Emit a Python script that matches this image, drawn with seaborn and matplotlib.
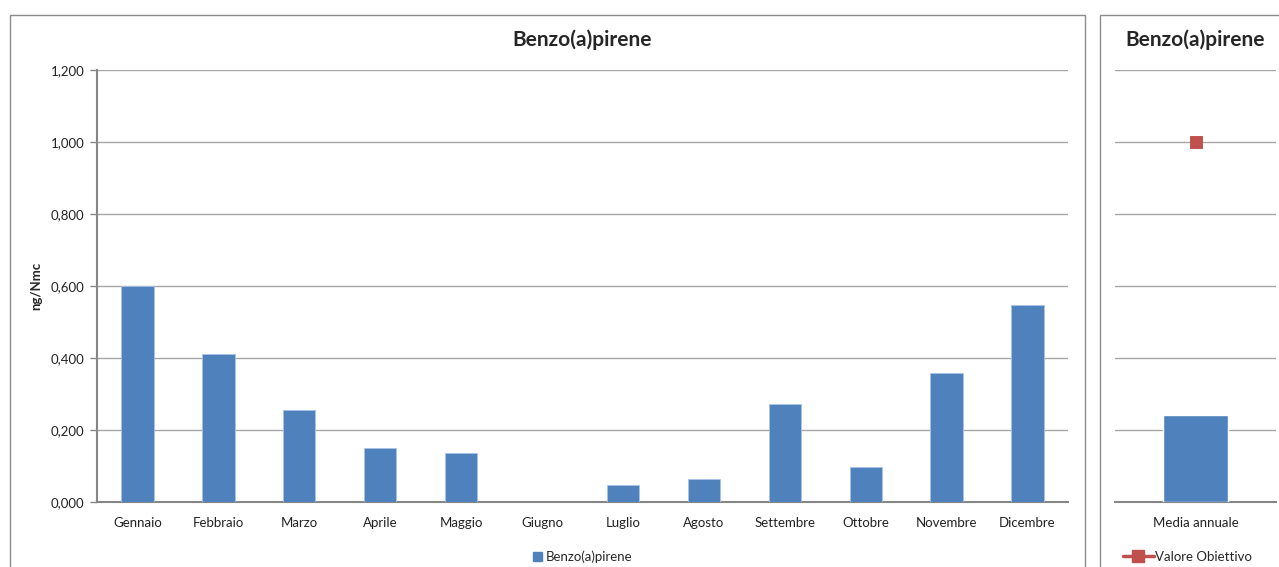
import numpy as np
import pandas as pd
import seaborn as sns
import matplotlib.pyplot as plt
from matplotlib.lines import Line2D
from matplotlib.patches import Rectangle, Patch
from matplotlib.ticker import FuncFormatter

# DATA
months = ["Gennaio", "Febbraio", "Marzo", "Aprile", "Maggio", "Giugno",
          "Luglio", "Agosto", "Settembre", "Ottobre", "Novembre", "Dicembre"]
bap_values = [0.600, 0.411, 0.256, 0.150, 0.136, 0.000,
              0.047, 0.064, 0.272, 0.097, 0.358, 0.547]

annual_label = ["Media annuale"]
annual_mean = [0.242]
target_value = [1.000]

y_ticks = [0.0, 0.2, 0.4, 0.6, 0.8, 1.0, 1.2]

BLUE = "#4F81BD"
RED = "#C0504D"
GRID = "#A6A6A6"
AXIS = "#868686"

sns.set_theme(style="white")
plt.rcParams["font.family"] = ["Lato", "DejaVu Sans"]

fig = plt.figure(figsize=(12.79, 5.67), dpi=100)

# chart frames
fig.patches.append(Rectangle((10 / 1279, -0.05), (1085 - 10) / 1279, 1.05 - 15 / 567,
                             transform=fig.transFigure, fill=False,
                             edgecolor="#8C8C8C", linewidth=1.0))
fig.patches.append(Rectangle((1100 / 1279, -0.05), 0.2, 1.05 - 15 / 567,
                             transform=fig.transFigure, fill=False,
                             edgecolor="#8C8C8C", linewidth=1.0))

ax1 = fig.add_axes([97 / 1279, 1 - 502 / 567, (1068 - 97) / 1279, (502 - 70) / 567])
ax2 = fig.add_axes([1115 / 1279, 1 - 502 / 567, (1276 - 1115) / 1279, (502 - 70) / 567])

# LEFT: monthly values
month_df = pd.DataFrame({"Mese": months, "Valore": bap_values})
sns.barplot(data=month_df, x="Mese", y="Valore", color=BLUE, saturation=1,
            width=0.4, edgecolor="#A9C4E6", linewidth=0.6, ax=ax1, zorder=3)

fmt = FuncFormatter(lambda v, p: f"{v:.3f}".replace(".", ","))
for ax in (ax1, ax2):
    ax.set_ylim(0, 1.2)
    ax.set_yticks(y_ticks)
    ax.yaxis.grid(True, color=GRID, linewidth=1.0, zorder=0)
    ax.set_axisbelow(True)
    for s in ["top", "right", "left"]:
        ax.spines[s].set_visible(False)
    ax.spines["bottom"].set_color(AXIS)
    ax.spines["bottom"].set_linewidth(1.5)
    ax.set_xlabel("")
    ax.set_ylabel("")

ax1.spines["left"].set_visible(True)
ax1.spines["left"].set_color(AXIS)
ax1.spines["left"].set_linewidth(1.5)
ax1.yaxis.set_major_formatter(fmt)
ax1.tick_params(axis="y", which="major", left=True, length=5, width=1, color=AXIS,
                labelsize=9.5, pad=4, labelcolor="#222222")
ax1.tick_params(axis="x", bottom=False, labelsize=9.5, pad=5, labelcolor="#222222")
ax1.set_ylabel("ng/Nmc", fontsize=9.5, fontweight="bold", labelpad=6)
ax1.set_title("Benzo(a)pirene", fontsize=15, fontweight="bold", pad=17)
ax1.legend(handles=[Patch(facecolor=BLUE, edgecolor=BLUE, label="Benzo(a)pirene")],
           loc="upper center", bbox_to_anchor=(0.5, -0.085), frameon=False,
           fontsize=9.5, handlelength=0.7, handleheight=0.7, handletextpad=0.3)

# RIGHT: annual mean vs target
annual_df = pd.DataFrame({"Periodo": annual_label, "Media": annual_mean,
                          "Obiettivo": target_value})
sns.barplot(data=annual_df, x="Periodo", y="Media", color=BLUE, saturation=1,
            width=0.4, ax=ax2, zorder=3)
sns.scatterplot(data=annual_df, x="Periodo", y="Obiettivo", color=RED, marker="s",
                s=70, edgecolor=RED, ax=ax2, zorder=4)
ax2.set_ylim(0, 1.2)
ax2.set_xlim(-0.5, 0.5)
ax2.set_ylabel("")
ax2.set_xlabel("")
ax2.tick_params(axis="y", left=False, labelleft=False)
ax2.tick_params(axis="x", bottom=False, labelsize=9.5, pad=5, labelcolor="#222222")
ax2.set_title("Benzo(a)pirene", fontsize=15, fontweight="bold", pad=17)
ax2.legend(handles=[Line2D([0], [0], color=RED, linewidth=2.5, marker="s",
                           markersize=8, label="Valore Obiettivo")],
           loc="upper center", bbox_to_anchor=(0.45, -0.085), frameon=False,
           fontsize=9.5, handlelength=2.3, handletextpad=0.1)

fig.savefig("out.png", dpi=100)
